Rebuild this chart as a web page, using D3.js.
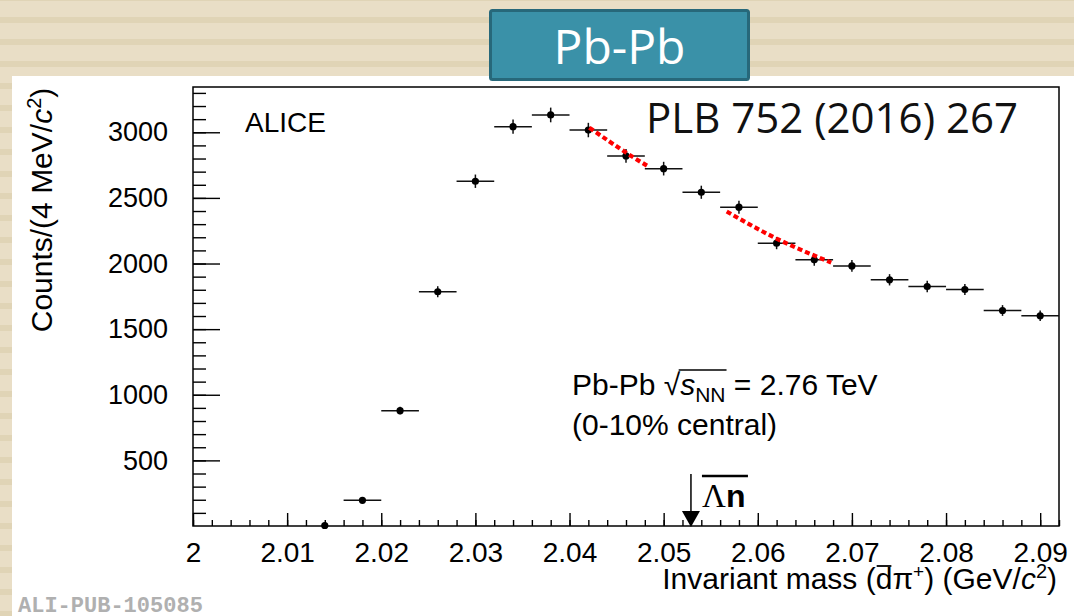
<!DOCTYPE html>
<html><head><meta charset="utf-8">
<script src="https://cdn.jsdelivr.net/npm/d3@7"></script>
<style>body{margin:0;background:#fff;} svg{display:block;}</style>
</head><body>
<svg id="chart" width="1074" height="616"></svg>
<script>
// ---- data ----
const massCenters = [2.014,2.018,2.022,2.026,2.030,2.034,2.038,2.042,2.046,2.050,2.054,2.058,2.062,2.066,2.070,2.074,2.078,2.082,2.086,2.090];
const counts      = [4,196,879,1785,2627,3043,3132,3017,2820,2723,2543,2429,2155,2028,1982,1876,1825,1802,1642,1602];
const countErrors = [3,15,30,42,51,55,56,55,53,52,50,49,46,45,44,43,43,42,41,40];
const binHalfWidth = 0.002;
const fitSegmentA = [[2.0421,3035],[2.0460,2845],[2.0483,2743]];
const fitSegmentB = [[2.0567,2396],[2.0621,2186],[2.0678,2007]];
const xMajorTicks = [2.00,2.01,2.02,2.03,2.04,2.05,2.06,2.07,2.08,2.09];
const xTickLabels = ["2","2.01","2.02","2.03","2.04","2.05","2.06","2.07","2.08","2.09"];
const yMajorTicks = [500,1000,1500,2000,2500,3000];
const yTickLabels = ["500","1000","1500","2000","2500","3000"];
const thresholdMass = 2.0529;

// ---- layout ----
const W = 1074, H = 616;
const P = {left:193, right:1059, top:87, bottom:526};
const svg = d3.select("#chart");
const FONT = "'Liberation Sans', Arial, Helvetica, sans-serif";

// background stripes
const defs = svg.append("defs");
const pat = defs.append("pattern").attr("id","stripes").attr("patternUnits","userSpaceOnUse")
  .attr("x",0).attr("y",17).attr("width",W).attr("height",22);
pat.append("rect").attr("width",W).attr("height",22).attr("fill","#e9dec6");
pat.append("rect").attr("width",W).attr("height",6).attr("fill","#e0d4b6");
svg.append("rect").attr("width",W).attr("height",H).attr("fill","url(#stripes)");
svg.append("rect").attr("x",12).attr("y",76).attr("width",W-12).attr("height",H-76).attr("fill","#ffffff");

// banner
svg.append("rect").attr("x",490.5).attr("y",10.5).attr("width",258).attr("height",69).attr("rx",2)
  .attr("fill","#3a91a8").attr("stroke","#27687a").attr("stroke-width",3);
svg.append("text").attr("x",619.5).attr("y",64).attr("text-anchor","middle")
  .attr("font-family","'Open Sans', sans-serif").attr("font-size",48).attr("fill","#ffffff").text("Pb-Pb");

// scales
const x = d3.scaleLinear().domain([2.0, 2.092]).range([P.left, P.right]);
const y = d3.scaleLinear().domain([0, 3345]).range([P.bottom, P.top]);

const minorX = d3.range(0, 47).map(i => 2.0 + i*0.002).filter(v => v <= 2.092);
const minorY = d3.range(1, 34).map(i => i*100);

function styleAxis(size){
  return g => {
    g.select(".domain").remove();
    g.selectAll("line").attr("stroke","#000").attr("stroke-width",1.4);
    g.selectAll("text").attr("font-family",FONT).attr("font-size",size).attr("fill","#000");
  };
}

// x axis
svg.append("g").attr("transform",`translate(0,${P.bottom})`)
  .call(d3.axisBottom(x).tickValues(minorX).tickSize(-6).tickFormat("")).call(styleAxis(28));
svg.append("g").attr("transform",`translate(0,${P.bottom})`)
  .call(d3.axisBottom(x).tickValues(xMajorTicks).tickSize(-13).tickPadding(16)
    .tickFormat((d,i)=>xTickLabels[i])).call(styleAxis(28));

// y axis
svg.append("g").attr("transform",`translate(${P.left},0)`)
  .call(d3.axisLeft(y).tickValues(minorY).tickSize(-13).tickFormat("")).call(styleAxis(27));
svg.append("g").attr("transform",`translate(${P.left},0)`)
  .call(d3.axisLeft(y).tickValues(yMajorTicks).tickSize(-27).tickPadding(25)
    .tickFormat((d,i)=>yTickLabels[i])).call(styleAxis(27));

// frame
svg.append("rect").attr("x",P.left).attr("y",P.top).attr("width",P.right-P.left).attr("height",P.bottom-P.top)
  .attr("fill","none").attr("stroke","#000").attr("stroke-width",1.5);

// data
const pts = massCenters.map((m,i)=>({m, c:counts[i], e:countErrors[i]}));
const gData = svg.append("g");
gData.selectAll("line.h").data(pts.filter(d=>d.c>20)).join("line").attr("class","h")
  .attr("x1",d=>x(d.m-binHalfWidth)).attr("x2",d=>Math.min(x(d.m+binHalfWidth),P.right))
  .attr("y1",d=>y(d.c)).attr("y2",d=>y(d.c)).attr("stroke","#111").attr("stroke-width",1.5);
gData.selectAll("line.v").data(pts).join("line").attr("class","v")
  .attr("x1",d=>x(d.m)).attr("x2",d=>x(d.m))
  .attr("y1",d=>Math.min(y(d.c-d.e),P.bottom)).attr("y2",d=>y(d.c+d.e)).attr("stroke","#111").attr("stroke-width",1.5);
gData.selectAll("circle").data(pts).join("circle")
  .attr("cx",d=>x(d.m)).attr("cy",d=>y(d.c)).attr("r",3.6).attr("fill","#000");

// red dotted fit segments
const lineGen = d3.line().x(d=>x(d[0])).y(d=>y(d[1])).curve(d3.curveNatural);
[fitSegmentA, fitSegmentB].forEach(seg=>{
  svg.append("path").attr("d",lineGen(seg)).attr("fill","none").attr("stroke","#ff0000")
    .attr("stroke-width",4.2).attr("stroke-dasharray","5,3");
});

// texts
svg.append("text").attr("x",245).attr("y",132).attr("font-family",FONT).attr("font-size",28).text("ALICE");
svg.append("text").attr("x",646).attr("y",133).attr("font-family","'Open Sans', sans-serif")
  .attr("font-size",42).attr("fill","#111").text("PLB 752 (2016) 267");

const t1 = svg.append("text").attr("x",572).attr("y",395).attr("font-family",FONT).attr("font-size",30);
t1.append("tspan").text("Pb-Pb \u221A");
t1.append("tspan").attr("font-style","italic").text("s");
t1.append("tspan").attr("font-size",21).attr("dy",7).text("NN");
t1.append("tspan").attr("dy",-7).text(" = 2.76 TeV");
const tn = t1.node();
const e6 = tn.getExtentOfChar(6);
const end9 = tn.getEndPositionOfChar(9);
svg.append("line").attr("x1",e6.x+e6.width-1.5).attr("x2",end9.x+1).attr("y1",370).attr("y2",370)
  .attr("stroke","#000").attr("stroke-width",1.5);
svg.append("text").attr("x",572).attr("y",435).attr("font-family",FONT).attr("font-size",30).text("(0-10% central)");

// threshold arrow
const ax = x(thresholdMass);
svg.append("line").attr("x1",ax).attr("x2",ax).attr("y1",474).attr("y2",512).attr("stroke","#000").attr("stroke-width",1.5);
svg.append("path").attr("d",`M${ax-9},511 L${ax+9},511 L${ax},527 Z`).attr("fill","#000");
const lt = svg.append("text").attr("x",ax+11).attr("y",507);
lt.append("tspan").attr("font-family","'Liberation Serif', 'Times New Roman', serif").attr("font-size",33).text("\u039B");
lt.append("tspan").attr("font-family",FONT).attr("font-weight","bold").attr("font-size",32).text("n");
svg.append("line").attr("x1",ax+11).attr("x2",ax+57).attr("y1",476).attr("y2",476).attr("stroke","#000").attr("stroke-width",2.5);

// axis titles
const yl = svg.append("text").attr("transform","translate(52,210) rotate(-90)").attr("text-anchor","middle")
  .attr("font-family",FONT).attr("font-size",30);
yl.append("tspan").text("Counts/(4 MeV/");
yl.append("tspan").attr("font-style","italic").text("c");
yl.append("tspan").attr("font-size",20).attr("dy",-11).text("2");
yl.append("tspan").attr("dy",11).text(")");

const xl = svg.append("text").attr("x",1057).attr("y",589).attr("text-anchor","end")
  .attr("font-family",FONT).attr("font-size",30);
xl.append("tspan").text("Invariant mass (d");
xl.append("tspan").text("\u03C0");
xl.append("tspan").attr("font-size",19).attr("dy",-11).text("+");
xl.append("tspan").attr("dy",11).text(") (GeV/");
xl.append("tspan").attr("font-style","italic").text("c");
xl.append("tspan").attr("font-size",20).attr("dy",-11).text("2");
xl.append("tspan").attr("dy",11).text(")");
const dExt = xl.node().getExtentOfChar(16);
svg.append("line").attr("x1",dExt.x+1).attr("x2",dExt.x+dExt.width-1)
  .attr("y1",566).attr("y2",566).attr("stroke","#000").attr("stroke-width",1.8);

svg.append("text").attr("x",18).attr("y",612).attr("font-family","'Liberation Mono', 'Courier New', monospace")
  .attr("font-weight","bold").attr("font-size",22).attr("fill","#b0b0b0").text("ALI-PUB-105085");
</script>
</body></html>
